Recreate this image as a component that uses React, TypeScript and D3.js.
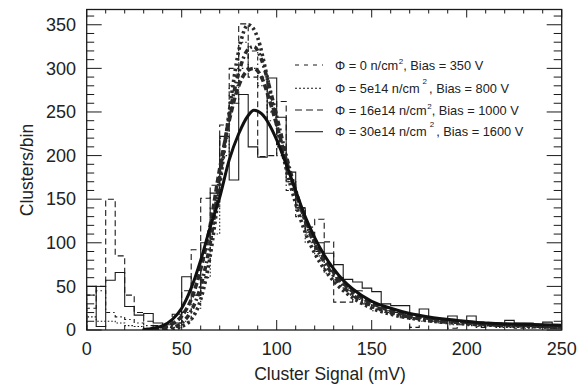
import React from "react";
import * as d3 from "d3";

const W = 587;
const H = 390;

// bin lower edges (mV), bin width 5
const binStarts = d3.range(0, 250, 5);
const binWidth = 5;

const histPhi0 = [40, 45, 20, 15, 12, 8, 5, 3, 4, 8, 20, 40, 80, 140, 220, 260, 300, 320, 290, 240, 200, 160, 130, 110, 90, 70, 55, 48, 38, 32, 28, 25, 20, 18, 14, 15, 12, 10, 8, 9, 7, 6, 5, 6, 4, 5, 3, 4, 3, 2];
const histPhi5 = [15, 10, 10, 8, 5, 4, 2, 2, 3, 3, 10, 25, 60, 110, 200, 280, 330, 300, 280, 250, 210, 170, 140, 100, 85, 65, 60, 45, 35, 30, 22, 20, 18, 14, 12, 10, 9, 8, 6, 7, 5, 4, 5, 3, 3, 4, 2, 3, 2, 2];
const histPhi16 = [25, 50, 150, 85, 40, 20, 10, 5, 6, 18, 45, 92, 151, 166, 235, 300, 351, 290, 199, 200, 262, 170, 140, 118, 127, 101, 32, 32, 45, 30, 25, 22, 20, 15, 3, 14, 10, 8, 2, 6, 8, 3, 5, 4, 6, 2, 4, 3, 5, 2];
const histPhi30 = [50, 4, 57, 66, 27, 17, 19, 8, 6, 8, 61, 40, 100, 157, 222, 172, 270, 210, 198, 289, 244, 181, 140, 112, 100, 88, 75, 58, 55, 48, 44, 30, 28, 28, 18, 24, 12, 10, 16, 10, 16, 6, 7, 5, 11, 8, 8, 4, 9, 4];

// fitted curves: [mV, clusters/bin]
const fitPhi0: [number, number][] = [[40, 1], [45, 3], [50, 8], [55, 22], [60, 50], [65, 100], [70, 175], [75, 245], [80, 295], [85, 322], [88, 325], [92, 310], [96, 280], [100, 245], [105, 200], [110, 160], [115, 125], [120, 98], [125, 78], [130, 62], [140, 40], [150, 28], [160, 20], [175, 13], [200, 8], [225, 5], [250, 3.5]];
const fitPhi5: [number, number][] = [[45, 1], [50, 4], [55, 12], [60, 35], [65, 85], [70, 165], [75, 250], [80, 320], [85, 350], [90, 335], [95, 290], [100, 235], [105, 185], [110, 145], [115, 112], [120, 88], [125, 70], [130, 56], [140, 37], [150, 25], [160, 18], [175, 12], [200, 7], [225, 4.5], [250, 3]];
const fitPhi16: [number, number][] = [[35, 1], [40, 3], [45, 7], [50, 16], [55, 35], [60, 70], [65, 120], [70, 185], [75, 240], [80, 280], [85, 298], [88, 300], [92, 290], [96, 265], [100, 235], [105, 195], [110, 158], [115, 127], [120, 101], [125, 82], [130, 66], [140, 44], [150, 31], [160, 22], [175, 15], [200, 9], [225, 6], [250, 4]];
const fitPhi30: [number, number][] = [[30, 0.5], [35, 2], [40, 5], [45, 12], [50, 25], [55, 48], [60, 80], [65, 118], [70, 152], [75, 195], [80, 225], [85, 246], [88, 252], [92, 248], [96, 236], [100, 218], [105, 190], [110, 160], [115, 130], [120, 106], [125, 86], [130, 70], [135, 57], [140, 47], [150, 33], [160, 25], [170, 19], [180, 15], [195, 11], [210, 8], [230, 6.5], [250, 5.5]];

const xTicks = [0, 50, 100, 150, 200, 250];
const yTicks = [0, 50, 100, 150, 200, 250, 300, 350];

const legendFluence = ["0", "5e14", "16e14", "30e14"];
const legendBias = ["350", "800", "1000", "1600"];

const plot = { left: 86.7, right: 561.7, top: 9.5, bottom: 330 };

const x = d3.scaleLinear().domain([0, 250]).range([plot.left, plot.right]);
const y = d3.scaleLinear().domain([0, 367.5]).range([plot.bottom, plot.top]);

const histDash = ["4,3,1.5,3", "1.5,2", "6,3.5", ""];
const fitDash = ["5,3,2,3", "2.5,3", "6,3", ""];

function histPath(vals: number[]) {
  const pts: [number, number][] = [[0, 0]];
  vals.forEach((v, i) => pts.push([binStarts[i], v]));
  pts.push([binStarts[binStarts.length - 1] + binWidth, vals[vals.length - 1]]);
  pts.push([binStarts[binStarts.length - 1] + binWidth, 0]);
  return d3
    .line<[number, number]>()
    .x((d) => x(d[0]))
    .y((d) => y(d[1]))
    .curve(d3.curveStepAfter)(pts) as string;
}

function fitPath(pts: [number, number][]) {
  return d3
    .line<[number, number]>()
    .x((d) => x(d[0]))
    .y((d) => y(d[1]))
    .curve(d3.curveMonotoneX)(pts) as string;
}

export default function App() {
  const hists = [histPhi0, histPhi5, histPhi16, histPhi30];
  const fits = [fitPhi0, fitPhi5, fitPhi16, fitPhi30];
  const xMinor = d3.range(0, 251, 10);
  const yMinor = d3.range(0, 361, 10);
  const font = "Liberation Sans, Arial, Helvetica, sans-serif";
  const ink = "#1a1a1a";
  const rowY = [65, 88.3, 110, 131.7];

  return (
    <svg width={W} height={H} style={{ position: "absolute", left: 0, top: 0, background: "#fff" }} fontFamily={font}>
      <defs>
        <clipPath id="plotclip">
          <rect x={plot.left} y={plot.top} width={plot.right - plot.left} height={plot.bottom - plot.top} />
        </clipPath>
      </defs>
      <rect width={W} height={H} fill="#fff" />
      <g clipPath="url(#plotclip)">
        {hists.map((h, i) => (
          <path key={"h" + i} d={histPath(h)} fill="none" stroke={ink} strokeWidth={1.1} strokeDasharray={histDash[i]} />
        ))}
        {fits.map((f, i) => (
          <path
            key={"f" + i}
            d={fitPath(f)}
            fill="none"
            stroke={i === 3 ? "#111" : "#2a2a2a"}
            strokeWidth={i === 3 ? 3 : 3.6}
            strokeDasharray={fitDash[i]}
            strokeLinecap={i === 3 ? "round" : "butt"}
          />
        ))}
      </g>
      {/* ticks */}
      <g stroke={ink} strokeWidth={1}>
        {xMinor.map((t) => {
          const major = t % 50 === 0;
          return (
            <g key={"xt" + t}>
              <line x1={x(t)} x2={x(t)} y1={plot.bottom} y2={plot.bottom - (major ? 10 : 4.5)} />
              <line x1={x(t)} x2={x(t)} y1={plot.top} y2={plot.top + (major ? 8 : 4)} />
            </g>
          );
        })}
        {yMinor.map((t) => {
          const major = t % 50 === 0;
          return (
            <g key={"yt" + t}>
              <line x1={plot.left} x2={plot.left + (major ? 15 : 7.5)} y1={y(t)} y2={y(t)} />
              <line x1={plot.right} x2={plot.right - (major ? 15 : 8)} y1={y(t)} y2={y(t)} />
            </g>
          );
        })}
      </g>
      <rect
        x={plot.left}
        y={plot.top}
        width={plot.right - plot.left}
        height={plot.bottom - plot.top}
        fill="none"
        stroke={ink}
        strokeWidth={1.3}
      />
      {/* tick labels */}
      <g fill="#222" fontSize={18}>
        {xTicks.map((t) => (
          <text key={"xl" + t} x={x(t)} y={355} textAnchor="middle">
            {t}
          </text>
        ))}
        {yTicks.map((t) => (
          <text key={"yl" + t} x={76} y={y(t) + 6.3} textAnchor="end">
            {t}
          </text>
        ))}
      </g>
      <text x={330} y={380} textAnchor="middle" fontSize={17.5} fill="#222">
        Cluster Signal (mV)
      </text>
      <text transform={`translate(33,170) rotate(-90)`} textAnchor="middle" fontSize={17.5} fill="#222">
        Clusters/bin
      </text>
      {/* legend */}
      <g fontSize={12.8} fill="#222">
        {legendFluence.map((f, i) => {
          const far = i === 1 || i === 3;
          return (
            <g key={"lg" + i}>
              <line
                x1={295}
                x2={323}
                y1={rowY[i]}
                y2={rowY[i]}
                stroke={ink}
                strokeWidth={1.1}
                strokeDasharray={i === 0 ? "4,5" : i === 1 ? "2,2" : i === 2 ? "7,4" : ""}
              />
              <text x={335} y={rowY[i] + 4.6}>
                <tspan>{"\u03A6 = " + f + " n/cm"}</tspan>
                <tspan fontSize={8} dx={far ? 3 : 0.5} dy={far ? -9 : -6}>
                  2
                </tspan>
                <tspan dx={far ? 2 : 0} dy={far ? 9 : 6}>
                  {", Bias = " + legendBias[i] + " V"}
                </tspan>
              </text>
            </g>
          );
        })}
      </g>
    </svg>
  );
}
